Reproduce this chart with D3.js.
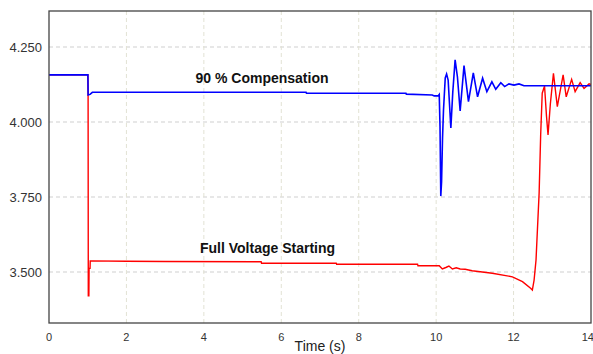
<!DOCTYPE html>
<html>
<head>
<meta charset="utf-8">
<script src="https://cdn.jsdelivr.net/npm/d3@7"></script>
<style>
  body { margin: 0; background: #fff; }
  svg { display: block; font-family: "Liberation Sans", Arial, sans-serif; }
</style>
</head>
<body>
<div id="chart"></div>
<script>
// tick values
const xTicks = [0, 2, 4, 6, 8, 10, 12, 14];
const yTicks = [3.5, 3.75, 4.0, 4.25];

// 90 % compensation (blue) - time (s), value
const blueT = [0, 1.005, 1.01, 1.06, 1.12, 6.64, 6.65, 9.22, 9.23, 9.9, 9.95, 10.05, 10.08, 10.10, 10.12, 10.14,
  10.165, 10.19, 10.235, 10.27, 10.31, 10.38, 10.43, 10.49, 10.55, 10.62, 10.72, 10.835, 10.96, 11.07,
  11.2, 11.31, 11.44, 11.54, 11.67, 11.77, 11.88, 12.01, 12.14, 12.27, 14];
const blueV = [4.157, 4.157, 4.09, 4.092, 4.099, 4.099, 4.096, 4.096, 4.093, 4.09, 4.087, 4.087, 4.092, 3.985, 3.753, 3.80,
  3.947, 4.04, 4.147, 4.16, 4.14, 3.98, 4.10, 4.207, 4.15, 4.037, 4.188, 4.068, 4.164, 4.084,
  4.146, 4.101, 4.134, 4.109, 4.131, 4.118, 4.127, 4.123, 4.127, 4.121, 4.121];

// full voltage starting (red)
const redT = [0, 1.005, 1.01, 1.015, 1.03, 1.035, 1.06, 1.065, 2.0, 3.0, 5.48, 5.49, 7.42, 7.43, 9.52, 9.53,
  10.08, 10.16, 10.25, 10.33, 10.42, 10.52, 10.62, 10.75, 10.93, 11.45, 11.97, 12.23, 12.44, 12.485,
  12.53, 12.58, 12.66, 12.7, 12.74, 12.8, 12.85, 12.89, 12.95, 13.03, 13.13, 13.28, 13.36, 13.5,
  13.59, 13.72, 13.82, 13.95, 14];
const redV = [4.157, 4.157, 4.09, 3.421, 3.421, 3.512, 3.512, 3.537, 3.536, 3.535, 3.534, 3.529, 3.529, 3.526, 3.526, 3.521,
  3.521, 3.51, 3.515, 3.52, 3.51, 3.514, 3.51, 3.509, 3.504, 3.496, 3.484, 3.468, 3.446, 3.44,
  3.473, 3.54, 3.763, 3.957, 4.096, 4.12, 4.02, 3.957, 4.06, 4.162, 4.051, 4.157, 4.084, 4.142,
  4.101, 4.131, 4.112, 4.127, 4.125];

const margin = { top: 11, right: 2, bottom: 31, left: 49 };
const width = 593 - margin.left - margin.right;
const height = 354 - margin.top - margin.bottom;

const svg = d3.select("#chart").append("svg")
  .attr("width", 593)
  .attr("height", 354);

const g = svg.append("g")
  .attr("transform", "translate(" + margin.left + "," + margin.top + ")");

const x = d3.scaleLinear().domain([0, 14]).range([0, width]);
const y = d3.scaleLinear().domain([3.33, 4.37]).range([height, 0]);

// grid lines
g.selectAll(".hgrid").data(yTicks).enter().append("line")
  .attr("x1", 0).attr("x2", width)
  .attr("y1", d => y(d)).attr("y2", d => y(d))
  .attr("stroke", "#cfcfcf").attr("stroke-dasharray", "4,3");

g.selectAll(".vgrid").data(xTicks.slice(1, -1)).enter().append("line")
  .attr("y1", 0).attr("y2", height)
  .attr("x1", d => x(d)).attr("x2", d => x(d))
  .attr("stroke", "#e2e2d4").attr("stroke-dasharray", "4,3");

// lines
const line = d3.line().x(d => x(d[0])).y(d => y(d[1]));

g.append("path")
  .datum(redT.map((t, i) => [t, redV[i]]))
  .attr("fill", "none").attr("stroke", "#ff0000").attr("stroke-width", 1.4)
  .attr("d", line);

g.append("path")
  .datum(blueT.map((t, i) => [t, blueV[i]]))
  .attr("fill", "none").attr("stroke", "#0000ff").attr("stroke-width", 1.6)
  .attr("d", line);

// frame
g.append("rect")
  .attr("width", width).attr("height", height)
  .attr("fill", "none").attr("stroke", "#444").attr("stroke-width", 1.3);

// y labels
g.selectAll(".ylab").data(yTicks).enter().append("text")
  .attr("x", -7).attr("y", d => y(d)).attr("dy", "0.36em")
  .attr("text-anchor", "end")
  .attr("font-size", 13).attr("fill", "#333")
  .text(d => d3.format(".3f")(d));

// x labels
g.selectAll(".xlab").data(xTicks).enter().append("text")
  .attr("x", d => x(d) + (d === 14 ? 3 : 0)).attr("y", height + 18)
  .attr("text-anchor", d => d === 14 ? "end" : "middle")
  .attr("font-size", 11).attr("fill", "#333")
  .text(d => d);

// axis title
g.append("text")
  .attr("x", width / 2).attr("y", height + 28)
  .attr("text-anchor", "middle")
  .attr("font-size", 14).attr("fill", "#222")
  .text("Time (s)");

// annotations
g.append("text")
  .attr("x", 262 - margin.left).attr("y", 83 - margin.top)
  .attr("text-anchor", "middle")
  .attr("font-size", 14).attr("font-weight", "bold").attr("fill", "#111")
  .text("90 % Compensation");

g.append("text")
  .attr("x", 267.5 - margin.left).attr("y", 253 - margin.top)
  .attr("text-anchor", "middle")
  .attr("font-size", 14).attr("font-weight", "bold").attr("fill", "#111")
  .text("Full Voltage Starting");
</script>
</body>
</html>
